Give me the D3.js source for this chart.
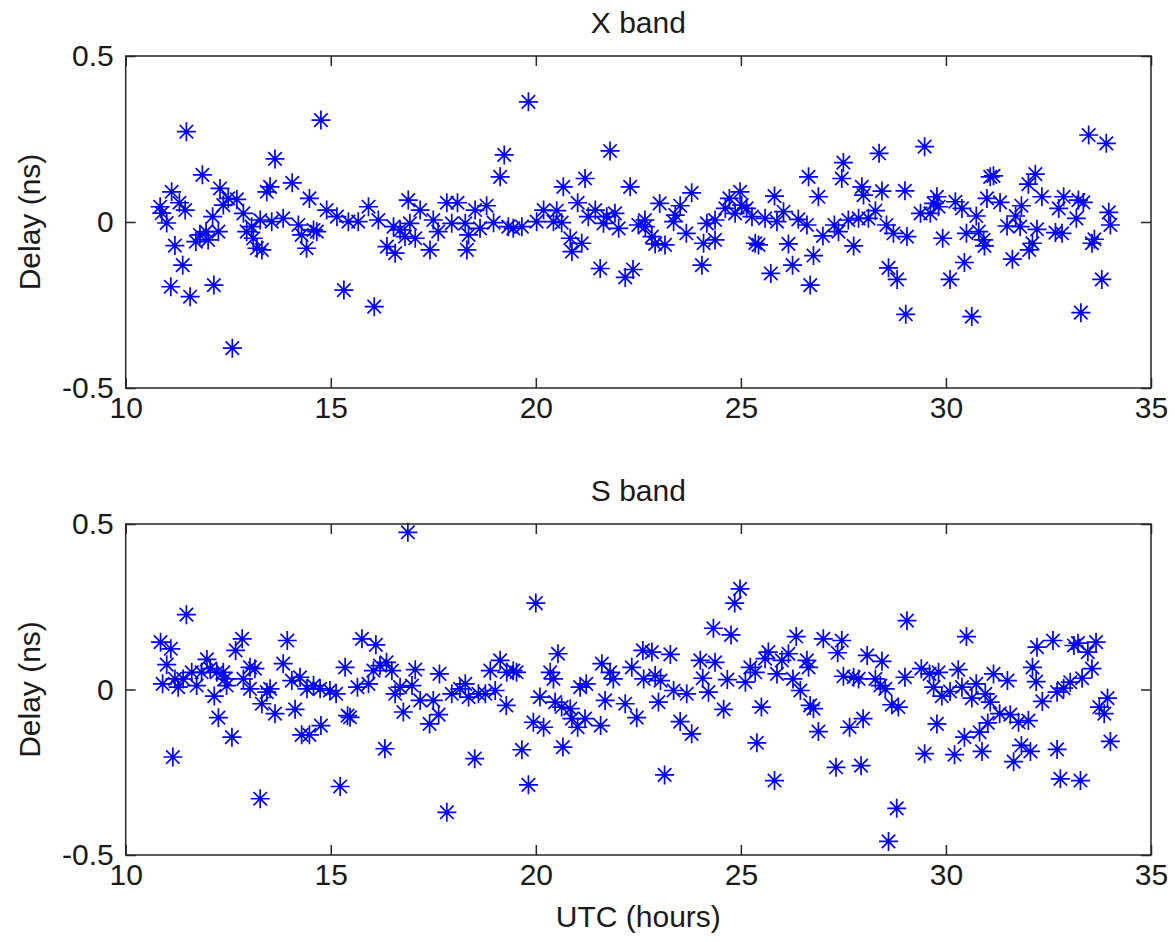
<!DOCTYPE html>
<html>
<head>
<meta charset="utf-8">
<script src="https://cdn.jsdelivr.net/npm/d3@7"></script>
<style>
  html, body { margin: 0; padding: 0; background: #fff; }
  svg { display: block; font-family: "Liberation Sans", Arial, sans-serif; }
</style>
</head>
<body>
<div id="chart"></div>
<script>
// X band delay residuals: UTC hours and delay (ns)
const xBandHours = [
  10.84, 10.88, 11.0, 11.1, 11.12, 11.2, 11.31, 11.39, 11.45, 11.48, 11.57, 11.71, 11.81, 11.87,
  11.96, 12.01, 12.12, 12.15, 12.26, 12.3, 12.38, 12.5, 12.6, 12.71, 12.87, 12.95, 13.07, 13.11,
  13.2, 13.28, 13.32, 13.44, 13.52, 13.56, 13.64, 13.84, 14.06, 14.21, 14.29, 14.41, 14.48, 14.58,
  14.66, 14.76, 14.9, 15.15, 15.32, 15.43, 15.67, 15.92, 16.06, 16.16, 16.37, 16.53, 16.57, 16.69,
  16.81, 16.89, 16.93, 17.06, 17.18, 17.42, 17.5, 17.62, 17.83, 17.95, 18.09, 18.28, 18.32, 18.36,
  18.52, 18.64, 18.8, 18.97, 19.13, 19.23, 19.33, 19.45, 19.66, 19.82, 20.02, 20.19, 20.43, 20.51,
  20.63, 20.67, 20.84, 20.88, 21.02, 21.12, 21.2, 21.28, 21.45, 21.57, 21.65, 21.73, 21.81, 21.93,
  22.02, 22.18, 22.3, 22.37, 22.5, 22.66, 22.67, 22.83, 22.91, 23.02, 23.15, 23.36, 23.4, 23.52,
  23.67, 23.8, 24.05, 24.09, 24.17, 24.37, 24.37, 24.62, 24.72, 24.86, 24.98, 25.02, 25.14, 25.27,
  25.35, 25.43, 25.59, 25.73, 25.82, 25.88, 26.04, 26.16, 26.26, 26.4, 26.61, 26.65, 26.69, 26.77,
  26.89, 27.0, 27.28, 27.38, 27.46, 27.5, 27.62, 27.75, 27.87, 27.95, 27.99, 28.11, 28.28, 28.37,
  28.44, 28.55, 28.6, 28.72, 28.81, 29.0, 29.02, 29.05, 29.38, 29.48, 29.62, 29.7, 29.78, 29.82,
  29.92, 30.1, 30.23, 30.39, 30.45, 30.5, 30.63, 30.74, 30.8, 30.92, 30.94, 31.0, 31.08, 31.16,
  31.32, 31.49, 31.62, 31.7, 31.81, 31.84, 32.01, 32.03, 32.11, 32.18, 32.22, 32.34, 32.67, 32.75,
  32.83, 32.87, 33.18, 33.23, 33.29, 33.35, 33.48, 33.56, 33.62, 33.8, 33.91, 33.97, 34.01
];
const xBandDelay = [
  0.046, 0.027, -0.003, -0.195, 0.091, -0.071, 0.058, -0.13, 0.036, 0.272, -0.225, -0.059, -0.039, 0.142,
  -0.029, -0.054, 0.016, -0.19, -0.029, 0.101, 0.051, 0.071, -0.38, 0.068, 0.026, -0.029, -0.014, -0.049,
  -0.079, 0.006, -0.084, 0.091, 0.106, 0.001, 0.19, 0.011, 0.118, -0.009, -0.039, -0.079, 0.071, -0.024,
  -0.029, 0.307, 0.036, 0.016, -0.205, 0.001, 0.001, 0.046, -0.255, 0.006, -0.074, -0.014, -0.094, -0.024,
  -0.044, 0.066, -0.004, -0.049, 0.036, -0.084, 0.006, -0.029, 0.058, -0.004, 0.058, -0.004, -0.084, -0.039,
  0.036, -0.019, 0.049, -0.002, 0.136, 0.202, -0.014, -0.019, -0.014, 0.362, 0.001, 0.036, 0.001, 0.034,
  -0.002, 0.106, -0.049, -0.089, 0.058, -0.064, 0.131, 0.016, 0.036, -0.14, -0.004, 0.016, 0.214, 0.026,
  -0.019, -0.167, 0.106, -0.143, -0.009, 0.006, -0.014, -0.044, -0.066, 0.056, -0.069, 0.001, 0.021, 0.049,
  -0.034, 0.088, -0.13, -0.064, -0.004, -0.054, 0.006, 0.041, 0.071, 0.026, 0.091, 0.051, 0.041, 0.016,
  -0.064, -0.069, 0.011, -0.155, 0.078, 0.001, 0.031, -0.066, -0.13, 0.008, -0.009, 0.136, -0.19, -0.101,
  0.076, -0.042, -0.009, -0.029, 0.131, 0.179, 0.006, -0.072, 0.011, 0.106, 0.081, 0.011, 0.034, 0.207,
  0.093, -0.009, -0.138, -0.034, -0.173, 0.094, -0.278, -0.044, 0.026, 0.227, 0.026, 0.056, 0.076, 0.046,
  -0.049, -0.173, 0.061, 0.041, -0.122, -0.034, -0.285, 0.018, -0.029, -0.054, -0.072, 0.071, 0.136, 0.139,
  0.059, -0.012, -0.112, 0.018, -0.014, 0.049, 0.114, -0.084, -0.064, 0.144, -0.022, 0.076, -0.032, 0.041,
  -0.034, 0.076, 0.011, 0.066, -0.273, 0.059, 0.262, -0.064, -0.052, -0.173, 0.237, 0.029, -0.009
];

// S band delay residuals: UTC hours and delay (ns)
const sBandHours = [
  10.85, 10.9, 11.0, 11.1, 11.15, 11.2, 11.28, 11.4, 11.48, 11.61, 11.73, 11.85, 11.98, 12.06,
  12.16, 12.22, 12.26, 12.38, 12.42, 12.46, 12.59, 12.68, 12.84, 12.87, 13.03, 13.03, 13.15, 13.28,
  13.32, 13.44, 13.52, 13.64, 13.84, 13.94, 14.05, 14.13, 14.25, 14.29, 14.42, 14.48, 14.58, 14.74,
  14.76, 14.98, 15.13, 15.23, 15.35, 15.41, 15.47, 15.65, 15.76, 15.92, 16.04, 16.1, 16.2, 16.32,
  16.36, 16.49, 16.57, 16.69, 16.77, 16.88, 16.98, 17.06, 17.18, 17.41, 17.5, 17.63, 17.65, 17.83,
  17.95, 18.15, 18.28, 18.36, 18.51, 18.6, 18.77, 18.89, 19.01, 19.13, 19.28, 19.29, 19.45, 19.53,
  19.66, 19.82, 19.94, 20.0, 20.1, 20.19, 20.35, 20.43, 20.47, 20.54, 20.63, 20.66, 20.84, 20.88,
  21.02, 21.08, 21.2, 21.23, 21.58, 21.61, 21.69, 21.81, 21.89, 22.18, 22.34, 22.46, 22.61, 22.63,
  22.83, 22.91, 22.99, 23.04, 23.14, 23.28, 23.36, 23.52, 23.68, 23.8, 24.01, 24.07, 24.21, 24.33,
  24.37, 24.58, 24.67, 24.76, 24.85, 24.98, 25.11, 25.23, 25.35, 25.39, 25.5, 25.59, 25.67, 25.82,
  25.88, 26.0, 26.16, 26.27, 26.35, 26.45, 26.61, 26.65, 26.69, 26.77, 26.89, 27.01, 27.32, 27.36,
  27.46, 27.5, 27.65, 27.75, 27.87, 27.93, 27.98, 28.08, 28.28, 28.4, 28.44, 28.52, 28.6, 28.68,
  28.8, 28.84, 29.0, 29.05, 29.4, 29.48, 29.6, 29.7, 29.78, 29.82, 29.9, 30.1, 30.21, 30.3,
  30.39, 30.45, 30.5, 30.63, 30.74, 30.82, 30.88, 30.96, 31.02, 31.08, 31.16, 31.31, 31.5, 31.57,
  31.65, 31.77, 31.84, 32.01, 32.06, 32.11, 32.2, 32.22, 32.35, 32.61, 32.71, 32.71, 32.79, 32.87,
  33.03, 33.12, 33.22, 33.28, 33.32, 33.46, 33.56, 33.66, 33.74, 33.86, 33.94, 34.01
];
const sBandDelay = [
  0.143, 0.017, 0.075, 0.123, -0.204, 0.032, 0.007, 0.032, 0.226, 0.052, 0.012, 0.052, 0.091, 0.063,
  -0.02, 0.052, -0.085, 0.052, 0.032, 0.012, -0.144, 0.118, 0.153, 0.032, 0.067, 0.002, 0.063, -0.33,
  -0.043, -0.008, 0.002, -0.073, 0.078, 0.148, 0.027, -0.06, 0.037, -0.137, 0.002, -0.137, 0.012, 0.002,
  -0.109, -0.003, -0.013, -0.293, 0.067, -0.079, -0.084, 0.007, 0.153, 0.017, 0.057, 0.135, 0.072, -0.179,
  0.082, 0.057, -0.013, 0.007, -0.068, 0.475, 0.012, 0.06, -0.033, -0.104, -0.033, -0.076, 0.047, -0.371,
  -0.013, 0.002, 0.017, -0.023, -0.209, -0.013, -0.013, 0.057, -0.003, 0.088, -0.048, 0.052, 0.057, 0.052,
  -0.182, -0.288, -0.099, 0.261, -0.023, -0.114, 0.052, 0.032, -0.038, 0.108, -0.053, -0.174, -0.058, -0.088,
  -0.114, 0.007, -0.088, 0.017, -0.109, 0.078, -0.033, 0.052, 0.032, -0.043, 0.067, -0.085, 0.118, 0.032,
  0.113, 0.042, -0.038, 0.027, -0.258, 0.106, -0.003, -0.097, -0.013, -0.134, 0.088, 0.034, -0.008, 0.185,
  0.082, -0.06, 0.03, 0.165, 0.261, 0.304, 0.022, 0.067, 0.052, -0.161, -0.053, 0.093, 0.113, -0.275,
  0.047, 0.088, 0.108, 0.032, 0.16, -0.003, 0.088, 0.067, -0.048, -0.058, -0.127, 0.153, -0.235, 0.111,
  0.148, 0.04, -0.114, 0.037, 0.032, -0.23, -0.088, 0.103, 0.032, 0.012, 0.085, 0.002, -0.459, -0.046,
  -0.359, -0.053, 0.037, 0.208, 0.063, -0.194, 0.047, 0.007, -0.104, 0.052, -0.02, -0.006, -0.197, 0.06,
  0.007, -0.144, 0.16, -0.026, 0.017, -0.129, -0.187, -0.013, -0.101, -0.038, 0.047, -0.073, 0.027, -0.076,
  -0.218, -0.099, -0.169, -0.094, -0.187, 0.067, 0.024, 0.128, -0.036, 0.148, -0.181, -0.008, -0.27, 0.004,
  0.022, 0.133, 0.14, -0.275, 0.034, 0.113, 0.063, 0.143, -0.053, -0.073, -0.026, -0.157
];

const xTicks = [10, 15, 20, 25, 30, 35];
const yTicks = [-0.5, 0, 0.5];

const width = 1175;
const height = 942;
const plotLeft = 125.7;
const plotRight = 1151;
const fontSize = 30;

const panels = [
  { title: "X band", hours: xBandHours, delay: xBandDelay, top: 56, bottom: 388 },
  { title: "S band", hours: sBandHours, delay: sBandDelay, top: 524, bottom: 855 },
];

// MATLAB-style '*' marker: a plus and a cross on top of each other
const asterisk = {
  draw(context, size) {
    const r = Math.sqrt(size) / 2;
    const d = r * Math.SQRT1_2;
    context.moveTo(-r, 0); context.lineTo(r, 0);
    context.moveTo(0, -r); context.lineTo(0, r);
    context.moveTo(-d, -d); context.lineTo(d, d);
    context.moveTo(-d, d); context.lineTo(d, -d);
  },
};
const marker = d3.symbol().type(asterisk).size(19 * 19);

const svg = d3
  .select("#chart")
  .append("svg")
  .attr("width", width)
  .attr("height", height);

const x = d3.scaleLinear().domain([10, 35]).range([plotLeft, plotRight]);

panels.forEach((p) => {
  const y = d3.scaleLinear().domain([-0.5, 0.5]).range([p.bottom, p.top]);
  const g = svg.append("g");

  // points
  g.append("g")
    .selectAll("path")
    .data(d3.range(p.hours.length))
    .join("path")
    .attr("transform", (i) => `translate(${x(p.hours[i])},${y(p.delay[i])})`)
    .attr("d", marker)
    .attr("fill", "none")
    .attr("stroke", "#0000ff")
    .attr("stroke-width", 1.7);

  // inward ticks on all four sides
  const styleAxis = (sel) => {
    sel.select(".domain").remove();
    sel.selectAll(".tick line").attr("stroke", "#262626").attr("stroke-width", 1.5);
    sel.selectAll("text")
      .attr("fill", "#1a1a1a")
      .style("font-size", fontSize + "px")
      .style("font-family", '"Liberation Sans", Arial, sans-serif');
  };

  g.append("g")
    .attr("transform", `translate(0,${p.bottom})`)
    .call(d3.axisBottom(x).tickValues(xTicks).tickSize(-10).tickPadding(9).tickFormat((d) => String(d)))
    .call(styleAxis);
  g.append("g")
    .attr("transform", `translate(0,${p.top})`)
    .call(d3.axisTop(x).tickValues(xTicks).tickSize(-10).tickFormat(""))
    .call(styleAxis);
  g.append("g")
    .attr("transform", `translate(${plotLeft},0)`)
    .call(d3.axisLeft(y).tickValues(yTicks).tickSize(-10).tickPadding(12).tickFormat((d) => String(d)))
    .call(styleAxis);
  g.append("g")
    .attr("transform", `translate(${plotRight},0)`)
    .call(d3.axisRight(y).tickValues(yTicks).tickSize(-10).tickFormat(""))
    .call(styleAxis);

  // box
  g.append("rect")
    .attr("x", plotLeft)
    .attr("y", p.top)
    .attr("width", plotRight - plotLeft)
    .attr("height", p.bottom - p.top)
    .attr("fill", "none")
    .attr("stroke", "#262626")
    .attr("stroke-width", 1.5);

  // title
  g.append("text")
    .attr("x", (plotLeft + plotRight) / 2)
    .attr("y", p.top - 23)
    .attr("text-anchor", "middle")
    .attr("fill", "#1a1a1a")
    .style("font-size", fontSize + "px")
    .text(p.title);

  // y label
  g.append("text")
    .attr("transform", `translate(40,${(p.top + p.bottom) / 2}) rotate(-90)`)
    .attr("text-anchor", "middle")
    .attr("fill", "#1a1a1a")
    .style("font-size", fontSize + "px")
    .text("Delay (ns)");
});

svg.append("text")
  .attr("x", (plotLeft + plotRight) / 2)
  .attr("y", 927)
  .attr("text-anchor", "middle")
  .attr("fill", "#1a1a1a")
  .style("font-size", fontSize + "px")
  .text("UTC (hours)");
</script>
</body>
</html>
